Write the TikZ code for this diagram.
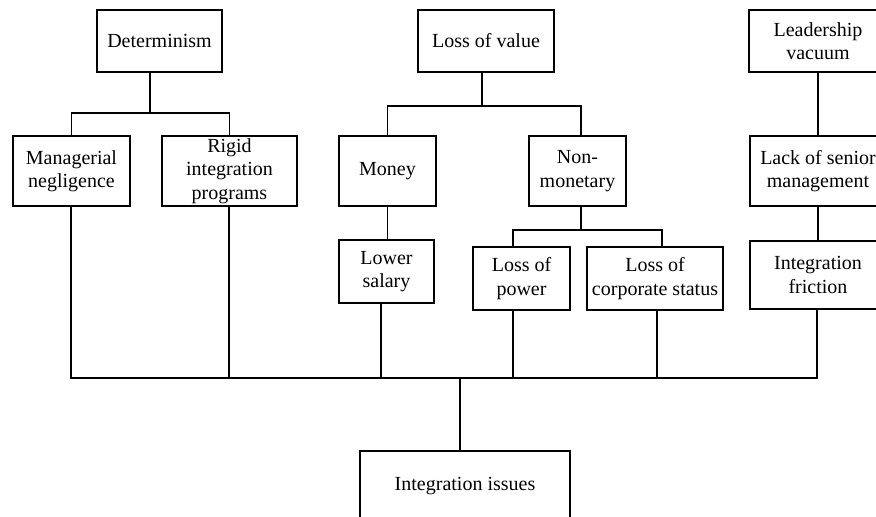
\documentclass[tikz,border=0pt]{standalone}
\usepackage{fontspec}
\setmainfont{Liberation Serif}
\begin{document}
\begin{tikzpicture}[x=1pt,y=-1pt,line width=1.2pt,
  box/.style={draw,inner sep=0pt,align=center,font=\fontsize{20}{23.5}\selectfont},
  conn/.style={draw,line width=1.2pt}]
\clip (0,0) rectangle (876,517);
\fill[white] (0,0) rectangle (876,517);
% top row
\node[box,minimum width=125pt,minimum height=62pt] (det) at (159.5,41) {Determinism};
\node[box,minimum width=136pt,minimum height=62pt] (lov) at (486,41) {Loss of value};
\node[box,minimum width=138pt,minimum height=62pt] (lv) at (818,41) {Leadership\\vacuum};
% second row
\node[box,minimum width=117pt,minimum height=70pt] (mn) at (71.5,171) {Managerial\\negligence};
\node[box,minimum width=135pt,minimum height=70pt] (rig) at (229.5,171) {Rigid\\integration\\programs};
\node[box,minimum width=97pt,minimum height=70pt] (mon) at (387.5,171) {Money};
\node[box,minimum width=97pt,minimum height=70pt] (nm) at (577.5,171) {Non-\\monetary};
\node[box,minimum width=136pt,minimum height=70pt] (lsm) at (818,171) {Lack of senior\\management};
% third row
\node[box,minimum width=95pt,minimum height=63pt] (ls) at (386.5,271.5) {Lower\\salary};
\node[box,minimum width=97pt,minimum height=63pt] (lp) at (521.5,278.5) {Loss of\\power};
\node[box,minimum width=136pt,minimum height=63pt] (lcs) at (655,278.5) {Loss of\\corporate status};
\node[box,minimum width=136pt,minimum height=68pt] (if) at (818,275) {Integration\\friction};
% bottom
\node[box,minimum width=210pt,minimum height=70pt] (ii) at (465,486) {Integration issues};
% junctions
\coordinate (j1) at (150,113);
\coordinate (j2) at (482,106);
\coordinate (j3) at (581,230);
\coordinate (bus) at (460,378);
% determinism branch
\draw (det.south -| j1) -- (j1);
\draw (mn.north) |- (j1) -| (rig.north);
% loss of value branch
\draw (lov.south -| j2) -- (j2);
\draw (mon.north) |- (j2) -| (nm.north -| j3);
\draw (mon.south) -- (mon.south |- ls.north);
\draw (nm.south -| j3) -- (j3);
\draw (lp.north -| 513,0) |- (j3) -| (lcs.north -| 662,0);
% leadership branch
\draw (lv.south) -- (lsm.north);
\draw (lsm.south) -- (if.north);
% bus
\coordinate (b1) at (71,378);
\coordinate (b2) at (229,378);
\coordinate (b3) at (381,378);
\coordinate (b4) at (513,378);
\coordinate (b5) at (657,378);
\coordinate (b6) at (817,378);
\draw (mn.south -| b1) -- (b1) -- (b6) -- (if.south -| b6);
\draw (rig.south -| b2) -- (b2);
\draw (ls.south -| b3) -- (b3);
\draw (lp.south -| b4) -- (b4);
\draw (lcs.south -| b5) -- (b5);
\draw (bus) -- (ii.north -| bus);
\end{tikzpicture}
\end{document}
